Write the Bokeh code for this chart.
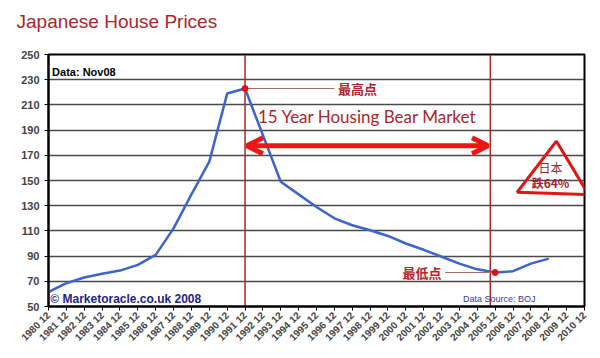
import math
from bokeh.plotting import figure
from bokeh.models import (FixedTicker, Label, Arrow, OpenHead, Range1d, ColumnDataSource, Title)
from bokeh.embed import file_html
from bokeh.resources import INLINE

# ---- data ----
years = list(range(1980, 2009))
prices = [61.5, 68.5, 73, 76, 78.5, 83, 91, 112, 139, 165, 219, 223, 186, 149,
          139, 129, 120, 114.5, 110.5, 106, 100, 95, 89.5, 84, 79.5, 77, 78, 84, 88]
tick_years = list(range(1980, 2011))
tick_labels = [f"{y} 12" for y in tick_years]
y_ticks = list(range(50, 251, 20))

title_text = "Japanese House Prices"
peak_year, peak_val = 1991, 223
low_year, low_val = 2005, 77

p = figure(width=600, height=358, output_backend="svg", toolbar_location=None,
           x_range=Range1d(1980, 2010), y_range=Range1d(50, 250),
           min_border_left=48, min_border_right=16, min_border_top=54, min_border_bottom=52)
p.title = None
p.background_fill_color = "white"
p.border_fill_color = "white"
p.outline_line_color = "black"
p.outline_line_width = 2

# title: spacer closest to the frame, then the real title above it
p.add_layout(Title(text=" ", text_font_size="1px", standoff=20), "above")
p.add_layout(Title(text=title_text, align="left", offset=-32, standoff=0,
                   text_font="Liberation Sans", text_font_style="normal",
                   text_font_size="19px", text_color="#b0242c"), "above")

# axes
p.xaxis.ticker = FixedTicker(ticks=tick_years)
p.xaxis.major_label_overrides = {y: l for y, l in zip(tick_years, tick_labels)}
p.xaxis.major_label_orientation = math.pi / 4
p.xaxis.major_label_text_font = "Liberation Sans"
p.xaxis.major_label_text_font_style = "bold"
p.xaxis.major_label_text_font_size = "10px"
p.xaxis.major_label_standoff = 3
p.xaxis.axis_line_color = "black"
p.xaxis.axis_line_width = 2
p.xaxis.major_tick_out = 4
p.xaxis.major_tick_in = 0
p.xaxis.minor_tick_line_color = None

p.yaxis.ticker = FixedTicker(ticks=y_ticks)
p.yaxis.major_label_text_font = "Liberation Sans"
p.yaxis.major_label_text_font_style = "bold"
p.yaxis.major_label_text_font_size = "11px"
p.yaxis.major_label_standoff = 5
p.yaxis.axis_line_color = "black"
p.yaxis.axis_line_width = 2
p.yaxis.major_tick_out = 4
p.yaxis.major_tick_in = 0
p.yaxis.minor_tick_line_color = None

p.xgrid.grid_line_color = None
p.ygrid.grid_line_color = "#4a4a4a"
p.ygrid.grid_line_width = 1.5

# red vertical lines
p.segment(x0=[1991.0, 2004.73], y0=[50, 50], x1=[1991.0, 2004.73], y1=[250, 250],
          line_color="#a32a2a", line_width=1.5)

# data line
src = ColumnDataSource(dict(x=years, y=prices))
p.line("x", "y", source=src, line_color="#3d63cf", line_width=2.5)

# peak / low markers and connectors
p.segment(x0=[peak_year, 2002.2], y0=[peak_val, low_val], x1=[1996.0, low_year], y1=[peak_val, low_val],
          line_color="#a86a6a", line_width=1.2)
p.scatter([peak_year, low_year], [peak_val, low_val], size=6, color="#e01010")

p.add_layout(Label(x=1996.2, y=peak_val, text="最高点", text_font="Noto Sans CJK SC",
                   text_font_style="bold", text_font_size="13px", text_color="#b0242c",
                   text_baseline="middle"))
p.add_layout(Label(x=2002.0, y=low_val, text="最低点", text_font="Noto Sans CJK SC",
                   text_font_style="bold", text_font_size="13px", text_color="#b0242c",
                   text_baseline="middle", text_align="right"))

# bear market label and arrow
p.add_layout(Label(x=1997.85, y=200.5, text="15 Year Housing Bear Market", text_font="Lato",
                   text_font_size="17px", text_color="#b0242c", text_baseline="middle",
                   text_align="center"))
p.add_layout(Arrow(x_start=1991.1, y_start=177.5, x_end=2004.6, y_end=177.5,
                   line_color="#ee1515", line_width=5,
                   start=OpenHead(line_color="#ee1515", line_width=5, size=16),
                   end=OpenHead(line_color="#ee1515", line_width=5, size=16)))

# hand-drawn triangle
p.patch([2008.43, 2006.23, 2010.22], [181.2, 140.7, 138.9], fill_color=None,
        line_color="#e01515", line_width=3)
p.add_layout(Label(x=2008.1, y=160.5, text="日本", text_font="Noto Sans CJK SC",
                   text_font_size="12px", text_color="#a02030", text_baseline="middle",
                   text_align="center"))
p.add_layout(Label(x=2008.1, y=148.5, text="跌64%", text_font="Noto Sans CJK SC",
                   text_font_style="bold", text_font_size="12px", text_color="#a02030",
                   text_baseline="middle", text_align="center"))

# corner texts
p.add_layout(Label(x=1980.2, y=236, text="Data: Nov08", text_font="Liberation Sans",
                   text_font_style="bold", text_font_size="11px", text_color="black",
                   text_baseline="middle"))
p.add_layout(Label(x=1980.1, y=56, text="© Marketoracle.co.uk 2008", text_font="Liberation Sans",
                   text_font_style="bold", text_font_size="12px", text_color="#1f1f8a",
                   text_baseline="middle"))
p.add_layout(Label(x=2003.2, y=56, text="Data Source: BOJ", text_font="Liberation Sans",
                   text_font_size="9px", text_color="#3a3a99", text_baseline="middle"))

open("out.html", "w").write(file_html(p, INLINE))
